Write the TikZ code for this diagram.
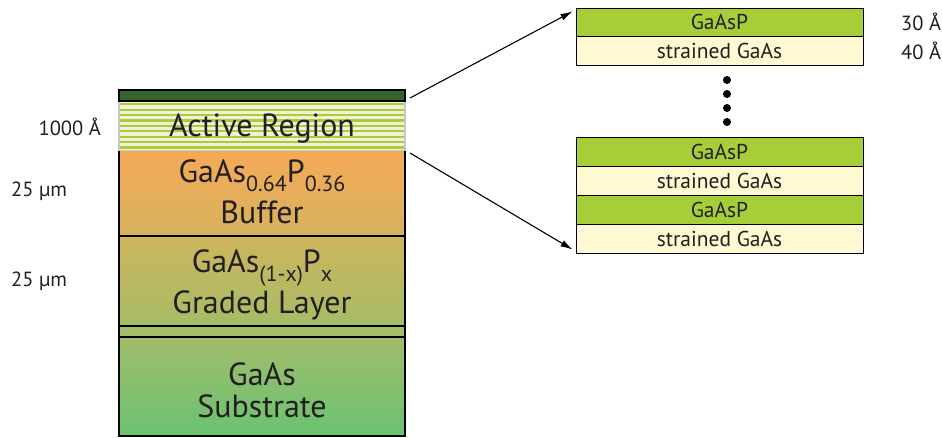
\documentclass[tikz,border=0pt]{standalone}
\usepackage{fontspec}
\setmainfont{PT Sans}
\usetikzlibrary{arrows.meta,calc}
\definecolor{txt}{HTML}{231F20}
\definecolor{dkgreen}{HTML}{35632F}
\definecolor{lgreen}{HTML}{A6CE39}
\definecolor{cream}{HTML}{FEF9D2}
\definecolor{stripebg}{HTML}{F3F0DA}
\definecolor{buftop}{HTML}{F5A957}
\definecolor{bufbot}{HTML}{D6B35E}
\definecolor{gradtop}{HTML}{CFB55E}
\definecolor{gradbot}{HTML}{A5BC66}
\definecolor{thinlayer}{HTML}{A4BD69}
\definecolor{subtop}{HTML}{A1BC6A}
\definecolor{subbot}{HTML}{69C372}
\tikzset{
  bigtxt/.style={font=\fontsize{32}{36}\selectfont, text=txt, anchor=base, inner sep=0pt},
  smalltxt/.style={font=\fontsize{20.5}{24}\selectfont, text=txt, inner sep=0pt},
  layerbox/.style={draw=black, line width=1pt, minimum width=287pt, inner sep=0pt, font=\fontsize{21.5}{24}\selectfont, text=txt},
  gbox/.style={layerbox, fill=lgreen, minimum height=28pt},
  cbox/.style={layerbox, fill=cream, minimum height=29pt},
  zoomarrow/.style={line width=1.1pt, -{Latex[length=12pt,width=7pt]}},
  sep/.style={line width=2pt, black}
}
\newcommand{\sub}[1]{\raisebox{-0.3em}{\fontsize{22}{24}\selectfont #1}}
\begin{document}
\begin{tikzpicture}[x=1pt,y=-1pt]
\useasboundingbox (0,0) rectangle (942,437);
\fill[white] (0,0) rectangle (942,437);

% active region stripes
\fill[stripebg] (119,101) rectangle (405,151);
\foreach \i in {0,...,8} \fill[lgreen] (119,{103.2+\i*5.4}) rectangle (405,{105.4+\i*5.4});
\draw[black!22, line width=1.2pt] (119,101) rectangle (405,151);
% top cap layer
\fill[dkgreen] (119,90) rectangle (405,101);
\draw[black, line width=1.2pt] (119,90) rectangle (405,101);

% buffer
\shade[top color=buftop, bottom color=bufbot] (119,151) rectangle (405,236);
% graded
\shade[top color=gradtop, bottom color=gradbot] (119,236) rectangle (405,326);
% thin layer
\fill[thinlayer] (119,326) rectangle (405,337);
% substrate
\shade[top color=subtop, bottom color=subbot] (119,337) rectangle (405,436);
\draw[line width=1.3pt, black] (119,151) -- (119,436) -- (405,436) -- (405,151);
\draw[sep] (119,236) -- (405,236);
\draw[sep] (119,326) -- (405,326);
\draw[sep] (119,337) -- (405,337);

% texts in stack
\node[bigtxt] (tact) at (262,136) {Active Region};
\node[bigtxt] (tbuf1) at (262,182) {GaAs\sub{0.64}P\sub{0.36}};
\node[bigtxt] (tbuf2) at (262,223) {Buffer};
\node[bigtxt] (tgr1) at (262,272) {GaAs\sub{(1-x)}P\sub{x}};
\node[bigtxt] (tgr2) at (262,313) {Graded Layer};
\node[bigtxt] (tsub1) at (262,385) {GaAs};
\node[bigtxt] (tsub2) at (262,417) {Substrate};

% left labels
\node[smalltxt, anchor=east] (l1) at (101,127) {1000 Å};
\node[smalltxt, anchor=west] (l2) at (11,191) {25 µm};
\node[smalltxt, anchor=west] (l3) at (11,281) {25 µm};

% right boxes
\node[gbox] (t1) at (719.5,22) {GaAsP};
\node[cbox] (t2) at (719.5,50.5) {strained GaAs};
\node[gbox, minimum height=29pt] (b1) at (719.5,151.5) {GaAsP};
\node[cbox] (b2) at (719.5,180.5) {strained GaAs};
\node[gbox, minimum height=29pt] (b3) at (719.5,209.5) {GaAsP};
\node[cbox] (b4) at (719.5,238.5) {strained GaAs};

\node[smalltxt, anchor=west] (r1) at (901,22) {30 Å};
\node[smalltxt, anchor=west] (r2) at (901,51) {40 Å};

% dots
\foreach \yy in {80,94,108,122} \fill[black] (727,\yy) circle (4pt);

% arrows
\coordinate (a1s) at (410,98);
\coordinate (a2s) at (410,153);
\draw[zoomarrow] (a1s) -- ($(t1.north west)+(-3,4)$);
\draw[zoomarrow] (a2s) -- ($(b4.south west)+(-3,-4)$);
\end{tikzpicture}
\end{document}
